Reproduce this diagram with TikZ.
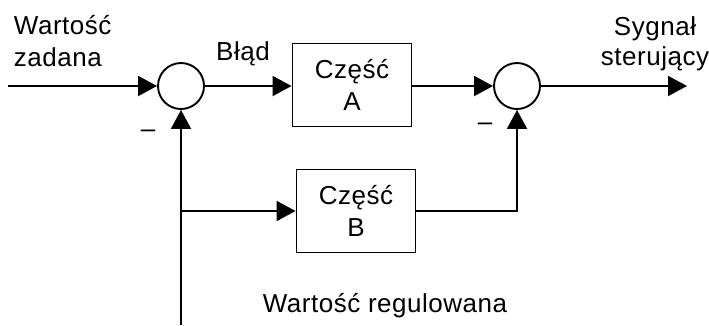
\documentclass[tikz,border=0pt]{standalone}
\usepackage{fontspec}
\setmainfont{Liberation Sans}[LetterSpace=2]
\usetikzlibrary{arrows.meta}
\begin{document}
\begin{tikzpicture}[x=1pt,y=-1pt,line width=1.9pt,
  sum/.style={draw,circle,minimum size=46pt,inner sep=0pt},
  blk/.style={draw,minimum width=119pt,minimum height=83pt,align=center,inner sep=0pt,font=\fontsize{26}{32}\selectfont},
  lbl/.style={font=\fontsize{26}{32}\selectfont,inner sep=0pt},
  arr/.style={-{Triangle[length=19pt,width=20pt]}}]
\useasboundingbox (0,0) rectangle (709,325);
\node[sum] (s1) at (181,86) {};
\node[sum] (s2) at (517,86) {};
\node[blk] (A) at (352,85) {Część\\A};
\node[blk] (B) at (356,211) {Część\\B};
\node[lbl,align=left,anchor=north west] (wz) at (13,14) {Wartość\\zadana};
\node[lbl,anchor=base] (err) at (243,60) {Błąd};
\node[lbl,align=center,anchor=north,font=\fontsize{26}{30}\selectfont] (sig) at (655,16) {Sygnał\\sterujący};
\node[lbl,anchor=base] (wr) at (385,312) {Wartość regulowana};
\node[lbl,anchor=base] (m1) at (148,137) {–};
\node[lbl,anchor=base] (m2) at (485,130) {–};
\coordinate (in) at (8,86);
\coordinate (out) at (687,86);
\coordinate (bot) at (181,325);
\coordinate (j) at (bot |- B.west);
\draw[arr] (in) -- (s1.west);
\draw[arr] (s1.east) -- (s1.east -| A.west);
\draw[arr] (A.east |- s2.west) -- (s2.west);
\draw[arr] (s2.east) -- (out);
\draw[arr] (bot) -- (s1.south);
\draw[arr] (j) -- (B.west);
\draw[arr] (B.east) -| (s2.south);
\end{tikzpicture}
\end{document}
